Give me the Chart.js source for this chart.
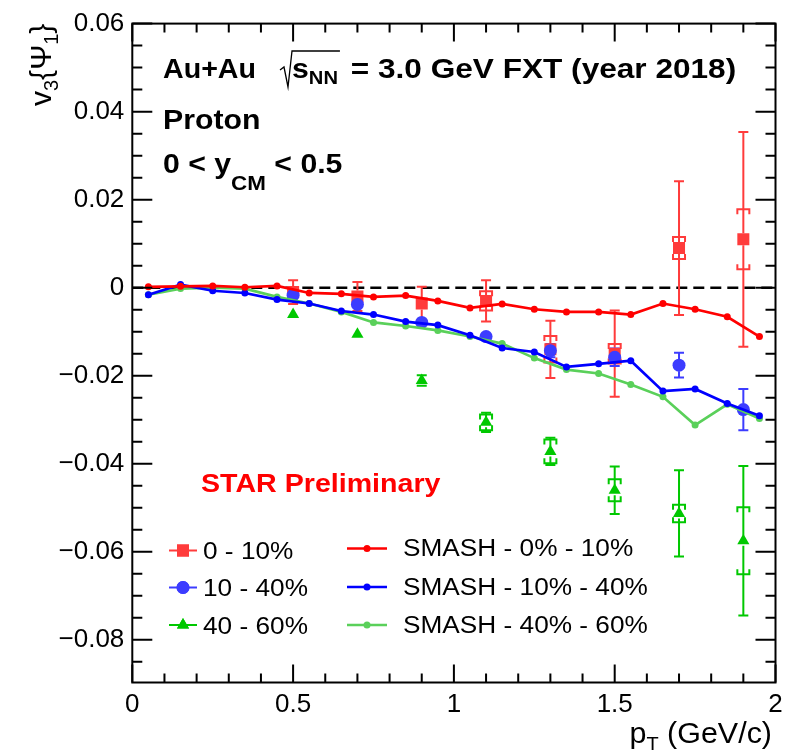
<!DOCTYPE html>
<html>
<head>
<meta charset="utf-8">
<script src="https://cdn.jsdelivr.net/npm/chart.js@4.4.0/dist/chart.umd.min.js"></script>
<style>
  html, body { margin: 0; padding: 0; background: #fff; }
  canvas { display: block; }
</style>
</head>
<body>
<canvas id="v3Chart" width="805" height="755"></canvas>
<script>
// STAR data points (proton v3{Psi1}, 0 < y_CM < 0.5)
const ptBins = [0.5, 0.7, 0.9, 1.1, 1.3, 1.5, 1.7, 1.9];
const v3Cent0010 = [-0.001, -0.002, -0.0036, -0.003, -0.014, -0.015, 0.009, 0.011];
const statCent0010 = [0.0027, 0.0033, 0.0038, 0.0047, 0.0065, 0.0098, 0.0152, 0.0244];
const sysCent0010 = [0.001, 0.001, 0.001, 0.0022, 0.003, 0.0022, 0.0025, 0.0068];
const v3Cent1040 = [-0.0017, -0.0038, -0.0079, -0.0111, -0.0143, -0.0158, -0.0176, -0.0277];
const statCent1040 = [0.001, 0.001, 0.001, 0.0012, 0.0015, 0.002, 0.0028, 0.0047];
const sysCent1040 = [0.0006, 0.0006, 0.0006, 0.0006, 0.0008, 0.0008, 0.0008, 0.0008];
const v3Cent4060 = [-0.0061, -0.0106, -0.0211, -0.0306, -0.0372, -0.046, -0.0513, -0.0575];
const statCent4060 = [0.0008, 0.001, 0.0012, 0.0022, 0.0031, 0.0054, 0.0098, 0.017];
const sysCent4060 = [0.0005, 0.0006, 0.0008, 0.0018, 0.0027, 0.0025, 0.002, 0.0076];

// SMASH model curves
const smashPt = [0.05, 0.15, 0.25, 0.35, 0.45, 0.55, 0.65, 0.75, 0.85, 0.95,
                 1.05, 1.15, 1.25, 1.35, 1.45, 1.55, 1.65, 1.75, 1.85, 1.95];
const smash0010 = [0.0002, 0.0003, 0.0004, 0.0001, 0.0004, -0.0012, -0.0014, -0.0021, -0.0018, -0.003,
                   -0.0046, -0.0037, -0.0049, -0.0055, -0.0055, -0.0061, -0.0036, -0.0049, -0.0066, -0.0111];
const smash1040 = [-0.0016, 0.0007, -0.0007, -0.0012, -0.0027, -0.0036, -0.0053, -0.0061, -0.0077, -0.0085,
                   -0.0108, -0.0137, -0.0146, -0.018, -0.0173, -0.0166, -0.0235, -0.023, -0.0263, -0.0291];
const smash4060 = [-0.0016, -0.0002, 0.0, -0.0002, -0.0021, -0.0036, -0.0055, -0.0079, -0.0087, -0.0097,
                   -0.0111, -0.0127, -0.016, -0.0186, -0.0195, -0.022, -0.0248, -0.0312, -0.0265, -0.0297];

// axes
const xTickValues = [0, 0.5, 1, 1.5, 2];
const yTickValues = [-0.08, -0.06, -0.04, -0.02, 0, 0.02, 0.04, 0.06];
const xRange = [0, 2];
const yRange = [-0.0897, 0.06];

const FONT = "'Liberation Sans', Arial, Helvetica, sans-serif";
const red = '#ff3b3b', blue = '#3c3cff', green = '#00c800';
const smashRed = '#ff0000', smashBlue = '#0000ff', smashGreen = '#5ad05a';

const toXY = (xs, ys) => xs.map((x, i) => ({ x: x, y: ys[i] }));

function smashLine(label, ys, color, order) {
    return {
        label: label,
        data: toXY(smashPt, ys),
        showLine: true,
        borderColor: color,
        backgroundColor: color,
        borderWidth: 2.7,
        pointRadius: 3.5,
        pointBorderWidth: 0,
        order: order
    };
}

function starPoints(label, ys, color, style, radius, order) {
    return {
        label: label,
        data: toXY(ptBins, ys),
        showLine: false,
        backgroundColor: color,
        borderColor: color,
        borderWidth: 0,
        pointStyle: style,
        pointRadius: radius,
        order: order
    };
}

// draw text pieces left to right, with a horizontal stretch
function rich(ctx, parts, x, y, sx, color) {
    let cx = x;
    ctx.fillStyle = color || '#000';
    ctx.textBaseline = 'alphabetic';
    ctx.textAlign = 'left';
    parts.forEach(p => {
        ctx.font = (p.bold ? 'bold ' : '') + p.size + 'px ' + FONT;
        ctx.save();
        ctx.translate(cx, y + (p.dy || 0));
        ctx.scale(sx, 1);
        ctx.fillText(p.t, 0, 0);
        ctx.restore();
        cx += ctx.measureText(p.t).width * sx;
    });
    return cx;
}

function richWidth(ctx, parts, sx) {
    let w = 0;
    parts.forEach(p => {
        ctx.font = (p.bold ? 'bold ' : '') + p.size + 'px ' + FONT;
        w += ctx.measureText(p.t).width * sx;
    });
    return w;
}

function drawErrors(ctx, xs, ys, vals, stat, sys, color, half) {
    ctx.save();
    ctx.strokeStyle = color;
    ctx.lineWidth = 2;
    ptBins.forEach((pt, i) => {
        const px = xs.getPixelForValue(pt);
        const py = ys.getPixelForValue(vals[i]);
        const top = ys.getPixelForValue(vals[i] + stat[i]);
        const bot = ys.getPixelForValue(vals[i] - stat[i]);
        ctx.beginPath();
        if (top < py - half) {
            ctx.moveTo(px, top); ctx.lineTo(px, py - half);
            ctx.moveTo(px - 5, top); ctx.lineTo(px + 5, top);
        }
        if (bot > py + half) {
            ctx.moveTo(px, py + half); ctx.lineTo(px, bot);
            ctx.moveTo(px - 5, bot); ctx.lineTo(px + 5, bot);
        }
        ctx.stroke();
        const st = ys.getPixelForValue(vals[i] + sys[i]);
        const sb = ys.getPixelForValue(vals[i] - sys[i]);
        if (py - st > half + 1) {
            ctx.beginPath();
            ctx.moveTo(px - 6, st + 5); ctx.lineTo(px - 6, st); ctx.lineTo(px + 6, st); ctx.lineTo(px + 6, st + 5);
            ctx.moveTo(px - 6, sb - 5); ctx.lineTo(px - 6, sb); ctx.lineTo(px + 6, sb); ctx.lineTo(px + 6, sb - 5);
            ctx.stroke();
        }
    });
    ctx.restore();
}

const rootStyle = {
    id: 'rootStyle',
    beforeDatasetsDraw(chart) {
        const { ctx, chartArea: a, scales: { x, y } } = chart;
        // dashed zero line
        ctx.save();
        ctx.strokeStyle = '#000';
        ctx.lineWidth = 2.4;
        ctx.setLineDash([11, 6]);
        const y0 = y.getPixelForValue(0);
        ctx.beginPath();
        ctx.moveTo(a.left, y0);
        ctx.lineTo(a.right, y0);
        ctx.stroke();
        ctx.restore();

        drawErrors(ctx, x, y, v3Cent0010, statCent0010, sysCent0010, red, 6);
        drawErrors(ctx, x, y, v3Cent1040, statCent1040, sysCent1040, blue, 6);
        drawErrors(ctx, x, y, v3Cent4060, statCent4060, sysCent4060, green, 5);
    },
    afterDraw(chart) {
        const { ctx, chartArea: a, scales: { x, y } } = chart;
        ctx.save();
        // frame
        ctx.strokeStyle = '#000';
        ctx.lineWidth = 2;
        ctx.strokeRect(a.left, a.top, a.right - a.left, a.bottom - a.top);

        // inward ticks on all four sides
        ctx.beginPath();
        for (let k = 0; k <= 20; k++) {
            const px = x.getPixelForValue(k * 0.1);
            const len = (k % 5 === 0) ? 18 : 9;
            ctx.moveTo(px, a.bottom); ctx.lineTo(px, a.bottom - len);
            ctx.moveTo(px, a.top); ctx.lineTo(px, a.top + len);
        }
        for (let k = -17; k <= 12; k++) {
            const py = y.getPixelForValue(k * 0.005);
            const len = (k % 4 === 0) ? 20 : 10;
            ctx.moveTo(a.left, py); ctx.lineTo(a.left + len, py);
            ctx.moveTo(a.right, py); ctx.lineTo(a.right - len, py);
        }
        ctx.stroke();

        // axis titles
        const xt = [
            { t: 'p', size: 29 },
            { t: 'T', size: 19, dy: 7 },
            { t: ' (GeV/c)', size: 29 }
        ];
        rich(ctx, xt, 772 - richWidth(ctx, xt, 1.05), 743, 1.05);

        ctx.save();
        ctx.translate(51, 106);
        ctx.rotate(-Math.PI / 2);
        rich(ctx, [
            { t: 'v', size: 30 },
            { t: '3', size: 20, dy: 7 },
            { t: '{\u03A8', size: 30 },
            { t: '1', size: 20, dy: 7 },
            { t: '}', size: 30 }
        ], 0, 0, 1);
        ctx.restore();

        // header text
        const SB = 1.12;
        rich(ctx, [{ t: 'Au+Au', size: 27, bold: true }], 163, 78, 1.06);
        const sEnd = rich(ctx, [
            { t: 's', size: 27, bold: true },
            { t: 'NN', size: 18, bold: true, dy: 6 }
        ], 292, 78, SB);
        ctx.strokeStyle = '#000';
        ctx.lineWidth = 1.3;
        ctx.beginPath();
        ctx.moveTo(280, 70);
        ctx.lineTo(284, 67);
        ctx.lineTo(288, 87);
        ctx.lineTo(292, 51);
        ctx.lineTo(sEnd + 2, 51);
        ctx.stroke();
        rich(ctx, [{ t: ' = 3.0 GeV FXT (year 2018)', size: 27, bold: true }], Math.max(sEnd, 342), 78, 1.17);
        rich(ctx, [{ t: 'Proton', size: 27, bold: true }], 163, 129, SB);
        rich(ctx, [
            { t: '0 < y', size: 27, bold: true },
            { t: 'CM', size: 20, bold: true, dy: 17 },
            { t: ' < 0.5', size: 27, bold: true }
        ], 163, 173, SB);

        rich(ctx, [{ t: 'STAR Preliminary', size: 26, bold: true }], 201, 492, 1.1, '#ff0000');

        // legend
        const SL = 1.14;
        const legA = [
            { label: '0 - 10%', color: red, style: 'rect', r: 8.5, y: 550.5, base: 558.5 },
            { label: '10 - 40%', color: blue, style: 'circle', r: 6.5, y: 587.5, base: 596 },
            { label: '40 - 60%', color: green, style: 'triangle', r: 7, y: 625, base: 633.5 }
        ];
        legA.forEach(e => {
            ctx.strokeStyle = e.color;
            ctx.lineWidth = 2;
            ctx.beginPath();
            ctx.moveTo(169, e.y); ctx.lineTo(197, e.y);
            ctx.stroke();
            ctx.fillStyle = e.color;
            Chart.helpers.drawPoint(ctx, { pointStyle: e.style, radius: e.r, rotation: 0, borderWidth: 0 }, 183, e.y);
            ctx.fill();
            rich(ctx, [{ t: e.label, size: 23 }], 203, e.base, SL);
        });
        const legB = [
            { label: 'SMASH - 0% - 10%', color: smashRed, y: 548.5, base: 556 },
            { label: 'SMASH - 10% - 40%', color: smashBlue, y: 587, base: 594.5 },
            { label: 'SMASH - 40% - 60%', color: smashGreen, y: 625, base: 633 }
        ];
        legB.forEach(e => {
            ctx.strokeStyle = e.color;
            ctx.lineWidth = 2.5;
            ctx.beginPath();
            ctx.moveTo(347, e.y); ctx.lineTo(387, e.y);
            ctx.stroke();
            ctx.fillStyle = e.color;
            ctx.beginPath();
            ctx.arc(367, e.y, 3.5, 0, Math.PI * 2);
            ctx.fill();
            rich(ctx, [{ t: e.label, size: 23 }], 403, e.base, SL);
        });
        ctx.restore();
    }
};

new Chart(document.getElementById('v3Chart'), {
    type: 'scatter',
    data: {
        datasets: [
            smashLine('SMASH - 0% - 10%', smash0010, smashRed, 0),
            smashLine('SMASH - 10% - 40%', smash1040, smashBlue, 1),
            smashLine('SMASH - 40% - 60%', smash4060, smashGreen, 2),
            starPoints('40 - 60%', v3Cent4060, green, 'triangle', 7, 3),
            starPoints('10 - 40%', v3Cent1040, blue, 'circle', 6.5, 4),
            starPoints('0 - 10%', v3Cent0010, red, 'rect', 8.5, 5)
        ]
    },
    options: {
        responsive: false,
        animation: false,
        layout: { padding: { top: 17.5, right: 29.5, left: 0, bottom: 0 } },
        plugins: {
            legend: { display: false },
            tooltip: { enabled: false }
        },
        scales: {
            x: {
                type: 'linear',
                min: xRange[0],
                max: xRange[1],
                afterFit: s => { s.height = 72.5; },
                afterBuildTicks: s => { s.ticks = xTickValues.map(v => ({ value: v })); },
                grid: { display: false, drawTicks: false },
                border: { display: false },
                ticks: {
                    padding: 7,
                    color: '#000',
                    maxRotation: 0,
                    autoSkip: false,
                    font: { family: FONT, size: 26 },
                    callback: v => String(v)
                }
            },
            y: {
                type: 'linear',
                min: yRange[0],
                max: yRange[1],
                afterFit: s => { s.width = 132.3; },
                afterBuildTicks: s => { s.ticks = yTickValues.map(v => ({ value: v })); },
                grid: { display: false, drawTicks: false },
                border: { display: false },
                ticks: {
                    padding: 8,
                    color: '#000',
                    autoSkip: false,
                    font: { family: FONT, size: 26 },
                    callback: v => Math.abs(v) < 1e-9 ? '0' : (v < 0 ? '\u2212' : '') + Math.abs(v).toFixed(2)
                }
            }
        }
    },
    plugins: [rootStyle]
});
</script>
</body>
</html>
